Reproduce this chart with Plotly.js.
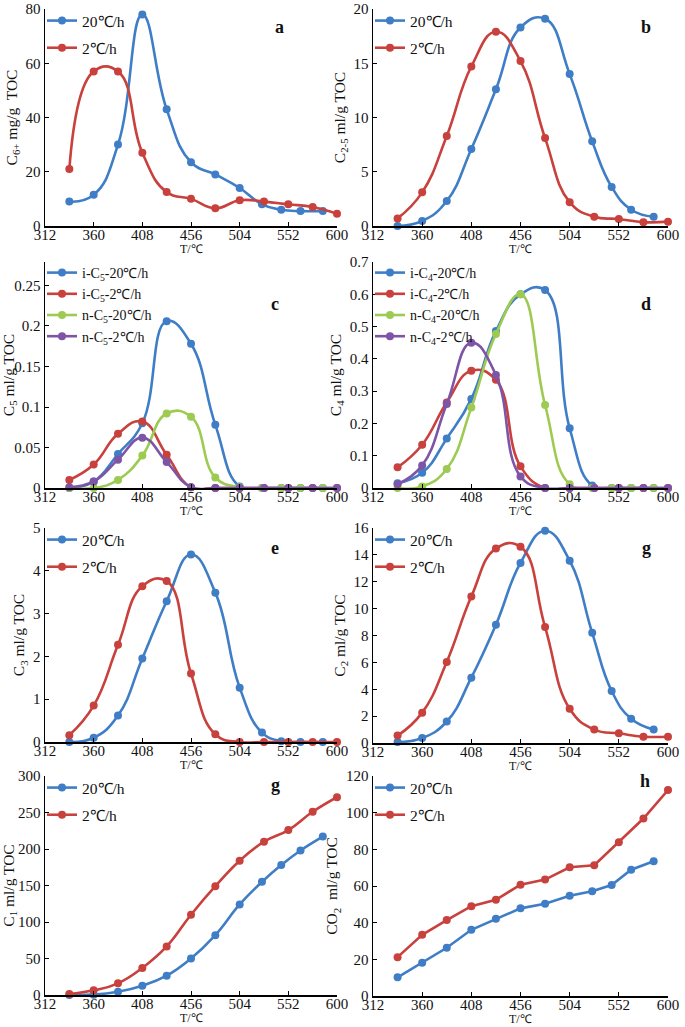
<!DOCTYPE html>
<html><head><meta charset="utf-8">
<script src="https://cdn.plot.ly/plotly-3.0.1.min.js"></script>
<style>html,body{margin:0;padding:0;background:#fff}#chart{width:685px;height:1027px}</style>
</head><body><div id="chart"></div>
<script>
// temperatures (°C)
const T20 = [336,360,384,408,432,456,480,504,526,545,564,586];
const T2  = [336,360,384,408,432,456,480,504,528,552,576,600];
const xTicks = [312,360,408,456,504,552,600];

// a: C6+ mg/g TOC
const a20 = [9,11.5,30,78,43,23.5,19,14,8,6,5.5,5.5];
const a2  = [21,57,57,27,12.5,10,6.5,9.5,9,8,7,4.5];
// b: C2-5 ml/g TOC
const b20 = [0,0.46,2.3,7.1,12.6,18.3,19.1,14.0,7.8,3.6,1.5,0.85];
const b2  = [0.7,3.1,8.3,14.7,17.9,15.2,8.1,2.2,0.85,0.65,0.35,0.4];
// c: C5 ml/g TOC
const ciC5_20 = [0,0.008,0.042,0.08,0.206,0.178,0.078,0.002,0,0,0,0];
const ciC5_2  = [0.01,0.029,0.067,0.082,0.041,0.001,0,0,0,0,0,0];
const cnC5_20 = [0,0,0.01,0.04,0.092,0.088,0.013,0.001,0,0,0,0];
const cnC5_2  = [0.001,0.008,0.035,0.062,0.032,0.001,0,0,0,0,0,0];
// d: C4 ml/g TOC
const diC4_20 = [0.015,0.047,0.153,0.276,0.486,0.6,0.613,0.185,0.008,0,0,0];
const diC4_2  = [0.064,0.134,0.265,0.363,0.335,0.067,0,0,0,0,0,0];
const dnC4_20 = [0,0.005,0.059,0.249,0.477,0.6,0.257,0.012,0,0,0,0];
const dnC4_2  = [0.012,0.07,0.26,0.45,0.35,0.036,0,0,0,0,0,0];
// e: C3 ml/g TOC
const e20 = [0,0.1,0.62,1.95,3.29,4.38,3.49,1.27,0.22,0.02,0,0];
const e2  = [0.16,0.85,2.27,3.64,3.76,1.6,0.18,0,0,0,0,0];
// g: C2 ml/g TOC
const g20 = [0.07,0.37,1.6,4.86,8.8,13.4,15.8,13.57,8.2,3.87,1.8,1.0];
const g2  = [0.55,2.26,6.03,10.9,14.47,14.6,8.63,2.55,1.0,0.72,0.47,0.47];
// g (C1) ml/g TOC
const f20 = [0,0.5,4.5,12.8,26.5,50,82,124,155,178,198,217];
const f2  = [1.4,6.4,16,37,66.5,110,149,184,210,226,251,271];
// h: CO2 ml/g TOC
const h20 = [10.2,18.2,26.3,36.1,42.1,47.8,50.3,54.7,57.1,60.5,68.9,73.5];
const h2  = [21.2,33.4,41.4,49,52.5,60.7,63.5,70.2,71.3,83.9,96.8,112.3];

const BLUE='#3f7ec6', RED='#c8413d', GREEN='#9dcb52', PURPLE='#7e55a6';
const SERIF='"Liberation Serif","Times New Roman",serif';
const H=1027, W=685;

// panel boxes in pixels: [left, right, top, bottom]
const boxes = [
  [45,337,9,226],[373,668,9,226],
  [45,337,262,488],[373,668,262,488],
  [45,337,528,742],[373,668,528,743],
  [45,337,776,995],[373,668,776,996]
];
const yRanges = [[0,80],[0,20],[0,0.279],[0,0.7],[0,5],[0,16],[0,300],[0,120]];
const yDticks = [20,5,0.05,0.1,1,2,50,20];
const yTitles = ['C<sub>6+</sub> mg/g  TOC','C<sub>2-5</sub> ml/g TOC','C<sub>5</sub> ml/g TOC','C<sub>4</sub> ml/g TOC',
                 'C<sub>3</sub> ml/g TOC','C<sub>2</sub> ml/g TOC','C<sub>1</sub> ml/g TOC','CO<sub>2</sub>  ml/g TOC'];
const letters = ['a','b','c','d','e','g','g','h'];

const traces=[];
function add(i,x,y,name,color,shape){
  const n=i+1;
  traces.push({x:x,y:y,name:name,type:'scatter',mode:'lines+markers',
    xaxis:'x'+(n===1?'':n), yaxis:'y'+(n===1?'':n),
    legend: n===1?'legend':'legend'+n, legendgroup:'g'+traces.length,
    line:{color:color,width:2.6,shape:shape||'spline',smoothing:1.3},
    marker:{color:color,size:8}, cliponaxis:false});
}
add(0,T20,a20,'20℃/h',BLUE); add(0,T2,a2,'2℃/h',RED);
add(1,T20,b20,'20℃/h',BLUE); add(1,T2,b2,'2℃/h',RED);
add(2,T20,ciC5_20,'i-C<sub>5</sub>-20℃/h',BLUE); add(2,T2,ciC5_2,'i-C<sub>5</sub>-2℃/h',RED);
add(2,T20,cnC5_20,'n-C<sub>5</sub>-20℃/h',GREEN); add(2,T2,cnC5_2,'n-C<sub>5</sub>-2℃/h',PURPLE);
add(3,T20,diC4_20,'i-C<sub>4</sub>-20℃/h',BLUE); add(3,T2,diC4_2,'i-C<sub>4</sub>-2℃/h',RED);
add(3,T20,dnC4_20,'n-C<sub>4</sub>-20℃/h',GREEN); add(3,T2,dnC4_2,'n-C<sub>4</sub>-2℃/h',PURPLE);
add(4,T20,e20,'20℃/h',BLUE); add(4,T2,e2,'2℃/h',RED);
add(5,T20,g20,'20℃/h',BLUE); add(5,T2,g2,'2℃/h',RED);
add(6,T20,f20,'20℃/h',BLUE); add(6,T2,f2,'2℃/h',RED);
add(7,T20,h20,'20℃/h',BLUE,'linear'); add(7,T2,h2,'2℃/h',RED,'linear');

const layout={width:W,height:H,margin:{l:0,r:0,t:0,b:0},paper_bgcolor:'#fff',plot_bgcolor:'rgba(0,0,0,0)',
  font:{family:SERIF,color:'#111',size:15},annotations:[]};
boxes.forEach((b,i)=>{
  const n=i+1, s=(n===1?'':n);
  layout['xaxis'+s]={domain:[b[0]/W,b[1]/W],anchor:'y'+s,range:[312,600],tickvals:xTicks,
    showline:true,linecolor:'#000',linewidth:1.5,ticks:'inside',ticklen:4,tickcolor:'#000',
    ticklabelstandoff:-6,
    showgrid:false,zeroline:false,tickfont:{size:15,family:SERIF,color:'#111'}};
  layout['yaxis'+s]={domain:[1-b[3]/H,1-b[2]/H],anchor:'x'+s,range:yRanges[i],dtick:yDticks[i],tick0:0,
    showline:true,linecolor:'#000',linewidth:1.5,ticks:'inside',ticklen:4,tickcolor:'#000',
    showgrid:false,zeroline:false,tickfont:{size:15,family:SERIF,color:'#111'},
    title:{text:yTitles[i],font:{size:15.5,family:SERIF,color:'#111'},standoff:4}};
  const four = (i===2||i===3);
  layout[n===1?'legend':'legend'+n]={x:(b[0]-3)/W,y:1-(b[2]-5)/H,xanchor:'left',yanchor:'top',
    bgcolor:'rgba(0,0,0,0)',font:{size:four?14:15.5,family:SERIF,color:'#111'},
    itemwidth:30,tracegroupgap:four?0:4,traceorder:'grouped'};
  const lx=[279,653,275,653,275,653,275,652][i], ly=[15,15,292,292,548,548,797,793][i];
  layout.annotations.push({text:'<b>'+letters[i]+'</b>',x:lx/W,y:1-ly/H,xref:'paper',yref:'paper',
    showarrow:false,font:{size:18,family:SERIF,color:'#111'}});
  // x axis title
  layout.annotations.push({text:'T/℃',x:((b[0]+b[1])/2)/W,y:1-(b[3]+22.5)/H,xref:'paper',yref:'paper',
    xanchor:'center',yanchor:'middle',showarrow:false,font:{size:12,family:SERIF,color:'#111'}});
});
Plotly.newPlot('chart',traces,layout,{displayModeBar:false,staticPlot:true});
</script></body></html>
